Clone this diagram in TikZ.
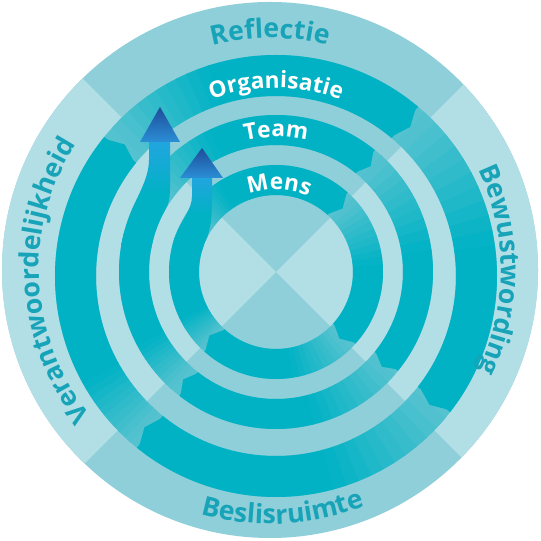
\documentclass[tikz,border=0pt]{standalone}
\usepackage{fontspec}
\setsansfont{Open Sans}
\usetikzlibrary{decorations.text}

\definecolor{bgmid}{HTML}{8FCFDA}
\definecolor{bglight}{HTML}{B2DEE6}
\definecolor{ringmid}{HTML}{55C2CF}
\definecolor{ringdark}{HTML}{00B2C4}
\definecolor{labelteal}{HTML}{17A3B8}
\definecolor{arrownavy}{HTML}{1F4C9A}
\definecolor{arrowblue}{HTML}{2A8FD6}
\definecolor{shaftblue}{HTML}{22A5DF}

\tikzset{
  outerlabel/.style={decorate, decoration={text along path, text align=center,
      text={|\sffamily\bfseries\fontsize{20}{20}\selectfont\color{labelteal}|#1}}},
  ringlabel/.style={decorate, decoration={text along path, text align=center,
      text={|\sffamily\bfseries\fontsize{17}{17}\selectfont\color{white}|#1}}},
  shaftfill/.style={top color=shaftblue, bottom color=ringdark, middle color=ringdark},
  headfill/.style={top color=arrownavy, bottom color=arrowblue},
}

% band piece: shift, inner r, outer r, start angle, fade span, end angle
\newcommand{\bandseg}[6]{%
  \begin{scope}[shift={#1}]
    \foreach \k in {0,...,9}{
      \pgfmathsetmacro{\angA}{#4-#5*\k/10}
      \pgfmathsetmacro{\angB}{#4-#5*(\k+1)/10-0.4}
      \pgfmathtruncatemacro{\mixp}{10*\k+5}
      \fill[ringdark!\mixp!ringmid] (\angA:#2) arc[start angle=\angA, end angle=\angB, radius=#2]
        -- (\angB:#3) arc[start angle=\angB, end angle=\angA, radius=#3] -- cycle;
    }
    \pgfmathsetmacro{\angC}{#4-#5}
    \fill[ringdark] (\angC:#2) arc[start angle=\angC, end angle=#6, radius=#2]
      -- (#6:#3) arc[start angle=#6, end angle=\angC, radius=#3] -- cycle;
  \end{scope}
}
% pointed end of a band piece: shift, inner r, outer r, angle
\newcommand{\bandtip}[4]{%
  \begin{scope}[shift={#1}]
    \pgfmathsetmacro{\angT}{#4-800/(#2+#3)}
    \fill[ringdark] ({#4+0.5}:#2) -- ({\angT}:{(#2+#3)/2}) -- ({#4+0.5}:#3) -- cycle;
  \end{scope}
}

\begin{document}
\begin{tikzpicture}[x=0.75pt,y=0.75pt]
  \useasboundingbox (-276,-269) rectangle (264,272);
  \fill[white] (-276,-269) rectangle (264,272);

  %Shape: Circle [outer disc]
  \fill[bgmid] (-6,2) circle (268);
  \begin{scope}
    \clip (-6,2) circle (268);
    \fill[bglight] (0,0) -- (45:400) -- (-45:400) -- cycle;
    \fill[bglight] (0,0) -- (135:400) -- (225:400) -- cycle;
  \end{scope}

  %Shape: Rings
  \fill[ringmid, even odd rule] (0,-4) circle (221) (0,-4) circle (180);
  \fill[ringmid, even odd rule] (0,0) circle (157) (0,0) circle (127);
  \fill[ringmid, even odd rule] (0,0) circle (107) (0,0) circle (77);

  % Organisatie band
  \bandseg{(0,-4)}{180}{221}{229}{20}{141}
  \bandseg{(0,-4)}{180}{221}{-40}{35}{-129}
  \bandseg{(0,-4)}{180}{221}{48}{40}{-38}
  \bandseg{(0,-4)}{180}{221}{138}{30}{50}
  % Team band
  \bandseg{(0,0)}{127}{157}{228}{20}{165}
  \bandseg{(0,0)}{127}{157}{-41}{35}{-128}
  \bandseg{(0,0)}{127}{157}{48}{40}{-39}
  \bandseg{(0,0)}{127}{157}{145}{30}{51}
  % Mens band
  \bandseg{(0,0)}{77}{107}{226}{20}{160}
  \bandseg{(0,0)}{77}{107}{-46}{35}{-132}
  \bandseg{(0,0)}{77}{107}{44}{40}{-42}
  \bandseg{(0,0)}{77}{107}{148}{25}{48}

  % band ends
  \foreach \a in {141,-129,-38,50}{\bandtip{(0,-4)}{180}{221}{\a}}
  \foreach \a in {-128,-39,51}{\bandtip{(0,0)}{127}{157}{\a}}
  \foreach \a in {-132,-42,48}{\bandtip{(0,0)}{77}{107}{\a}}

  %Shape: Arrow [Team to Organisatie]
  \shade[shaftfill] (170:157) arc[start angle=170, end angle=155, radius=157]
    .. controls (-134.7,82.7) and (-127,97) .. (-127,112) -- (-127,131) -- (-106,131)
    -- (-106,100) .. controls (-106,85) and (-105,72.2) .. (150:127)
    arc[start angle=150, end angle=170, radius=127] -- cycle;
  \shade[headfill] (-136,130) -- (-116,165) -- (-96,130) -- cycle;

  %Shape: Arrow [Mens to Team]
  \shade[shaftfill] (165:107) arc[start angle=165, end angle=160, radius=107]
    .. controls (-95.4,50.7) and (-84,62) .. (-84,76) -- (-84,95) -- (-64,95)
    -- (-64,70) .. controls (-64,55) and (-65.6,41.6) .. (155:77)
    arc[start angle=155, end angle=165, radius=77] -- cycle;
  \shade[headfill] (-96,94) -- (-74,124) -- (-53,94) -- cycle;

  % Text Node
  \begin{scope}[shift={(-6,2)}]
    \path[outerlabel=Reflectie] (150:232) arc[start angle=150, end angle=30, radius=232];
    \path[outerlabel=Bewustwording] (60:231) arc[start angle=60, end angle=-60, radius=231];
    \path[outerlabel=Verantwoordelijkheid] (243:231) arc[start angle=243, end angle=123, radius=231];
    \path[outerlabel=Beslisruimte] (225:254) arc[start angle=225, end angle=321, radius=254];
  \end{scope}
  % Text Node
  \path[ringlabel=Organisatie] (0,-4) ++(150:188) arc[start angle=150, end angle=30, radius=188];
  \path[ringlabel=Team] (150:135) arc[start angle=150, end angle=30, radius=135];
  \path[ringlabel=Mens] (148:82) arc[start angle=148, end angle=28, radius=82];
\end{tikzpicture}
\end{document}
